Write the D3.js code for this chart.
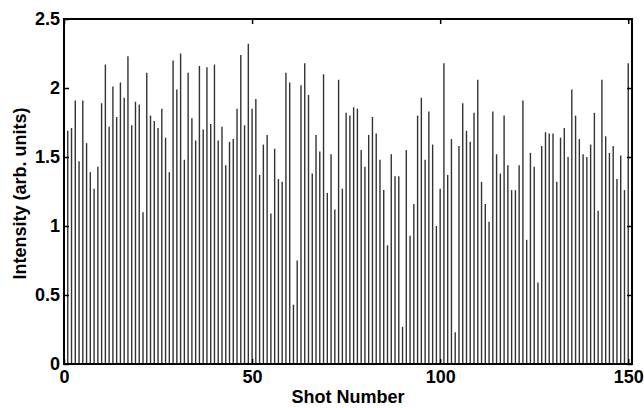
<!DOCTYPE html>
<html>
<head>
<meta charset="utf-8">
<script src="https://cdn.jsdelivr.net/npm/d3@7"></script>
<style>
html,body{margin:0;padding:0;background:#fff;}
svg{display:block;}
text{font-family:'Liberation Sans',Arial,sans-serif;font-weight:bold;fill:#000;}
</style>
</head>
<body>
<svg id="chart" width="644" height="408"></svg>
<script>
// Shot numbers 1..150
const shots = d3.range(1, 151);
// Intensity values (arb. units)
const intensity = [
  1.69, 1.71, 1.91, 1.47, 1.91, 1.60, 1.39, 1.27, 1.43, 1.89,
  2.17, 1.72, 2.01, 1.79, 2.04, 1.93, 2.23, 1.73, 1.90, 1.88,
  1.10, 2.11, 1.80, 1.76, 1.71,
  1.85, 1.64, 1.39, 2.20, 1.99, 2.25, 1.48, 2.11, 1.78, 1.62,
  2.16, 1.70, 2.15, 1.74, 2.17, 1.62, 1.72, 1.44, 1.61, 1.63,
  1.85, 2.24, 1.73, 2.32, 1.85, 1.92,
  1.37, 1.59, 1.66, 1.09, 1.56, 1.34, 1.32, 2.11, 2.04, 0.43,
  0.75, 2.02, 2.18, 1.95, 1.38, 1.66, 1.54, 2.10, 1.24, 1.52,
  1.12, 2.06, 1.27, 1.82, 1.80, 1.86, 1.85,
  1.55, 1.43, 1.66, 1.79, 1.67, 1.48, 1.26, 0.86, 1.52, 1.36,
  1.36, 0.27, 1.55, 0.93, 1.16, 1.80, 1.93, 1.48, 1.83, 1.59,
  1.00, 1.27, 2.18, 1.37, 1.63, 0.23, 1.58,
  1.89, 1.69, 1.61, 1.82, 2.06, 1.32, 1.16, 1.03, 1.83, 1.52,
  1.38, 1.80, 1.44, 1.26, 1.26, 1.44, 1.91, 0.90, 1.53, 1.43,
  0.59, 1.58, 1.68, 1.67, 1.67, 1.32,
  1.64, 1.71, 1.50, 1.99, 1.80, 1.63, 1.52, 1.50, 1.59, 1.82,
  1.11, 2.06, 1.65, 1.53, 1.58, 1.34, 1.51, 1.26, 2.18
];
const xTicks = [0, 50, 100, 150];
const yTicks = [0, 0.5, 1, 1.5, 2, 2.5];
const xLabel = "Shot Number";
const yLabel = "Intensity (arb. units)";

const L = 64, R = 632, T = 19, B = 364;
const svg = d3.select("#chart");
const x = d3.scaleLinear().domain([0, 151]).range([L, R]);
const y = d3.scaleLinear().domain([0, 2.5]).range([B, T]);

const data = shots.map((s, i) => ({s, v: intensity[i]}));

// stems
svg.append("g").selectAll("line").data(data).join("line")
  .attr("x1", d => x(d.s)).attr("x2", d => x(d.s))
  .attr("y1", y(0)).attr("y2", d => y(d.v))
  .attr("stroke", "#333").attr("stroke-width", 1.4);

const fmt = d => d3.format("")(d);
// axes with inward ticks
const axB = svg.append("g").attr("transform", `translate(0,${B})`)
  .call(d3.axisBottom(x).tickValues(xTicks).tickSize(-5).tickPadding(6).tickFormat(fmt));
const axT = svg.append("g").attr("transform", `translate(0,${T})`)
  .call(d3.axisTop(x).tickValues(xTicks).tickSize(-5).tickFormat(""));
const axL = svg.append("g").attr("transform", `translate(${L},0)`)
  .call(d3.axisLeft(y).tickValues(yTicks).tickSize(-5).tickPadding(4).tickFormat(fmt));
const axR = svg.append("g").attr("transform", `translate(${R},0)`)
  .call(d3.axisRight(y).tickValues(yTicks).tickSize(-5).tickFormat(""));

[axB, axT, axL, axR].forEach(g => {
  g.select(".domain").remove();
  g.selectAll(".tick line").attr("stroke", "#000").attr("stroke-width", 1.5);
  g.selectAll("text").attr("font-size", 18)
    .attr("font-family", "'Liberation Sans',Arial,sans-serif")
    .attr("font-weight", "bold").attr("fill", "#000");
});

// box
svg.append("rect").attr("x", L).attr("y", T).attr("width", R - L).attr("height", B - T)
  .attr("fill", "none").attr("stroke", "#000").attr("stroke-width", 2);

svg.append("text").attr("x", (L + R) / 2).attr("y", 403)
  .attr("text-anchor", "middle").attr("font-size", 18).text(xLabel);
svg.append("text").attr("transform", `translate(26,${(T + B) / 2 + 2}) rotate(-90)`)
  .attr("text-anchor", "middle").attr("font-size", 18).text(yLabel);
</script>
</body>
</html>
